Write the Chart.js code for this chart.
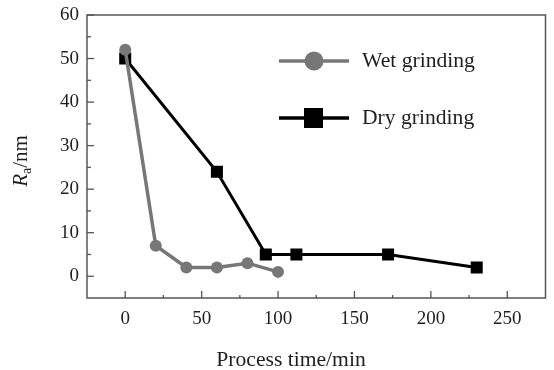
<!DOCTYPE html>
<html><head><meta charset="utf-8">
<script src="https://cdn.jsdelivr.net/npm/chart.js@4/dist/chart.umd.min.js"></script>
<style>html,body{margin:0;padding:0;background:#fff}#wrap{width:554px;height:370px}</style>
</head><body><div id="wrap"><canvas id="c" width="554" height="370"></canvas></div>
<script>
const wetTime = [0, 20, 40, 60, 80, 100];
const wetRa = [52, 7, 2, 2, 3, 1];
const dryTime = [0, 60, 92, 112, 172, 230];
const dryRa = [50, 24, 5, 5, 5, 2];
const xTicks = [0, 50, 100, 150, 200, 250];
const yTicks = [0, 10, 20, 30, 40, 50, 60];
const seriesNames = ['Wet grinding', 'Dry grinding'];
const xTitle = 'Process time/min';

const FONT = '"Liberation Serif","Times New Roman",serif';
const GRAY = '#777777';
const INK = '#1e1e1e';

const decor = {
  id: 'decor',
  afterDraw(chart) {
    const ctx = chart.ctx, a = chart.chartArea;
    const xs = chart.scales.x, ys = chart.scales.y;
    ctx.save();
    ctx.strokeStyle = '#555'; ctx.lineWidth = 1.5;
    ctx.strokeRect(a.left, a.top, a.right - a.left, a.bottom - a.top);
    ctx.lineWidth = 1.3;
    for (let v = 0; v <= 250; v += 25) {
      const px = xs.getPixelForValue(v);
      const len = v % 50 === 0 ? 7 : 3;
      ctx.beginPath(); ctx.moveTo(px, a.bottom); ctx.lineTo(px, a.bottom - len); ctx.stroke();
    }
    for (let v = 0; v <= 60; v += 5) {
      const py = ys.getPixelForValue(v);
      const len = v % 10 === 0 ? 7 : 4;
      ctx.beginPath(); ctx.moveTo(a.left, py); ctx.lineTo(a.left + len, py); ctx.stroke();
    }
    // legend
    const items = [
      {y: 61, color: GRAY, lw: 3.5, shape: 'circle'},
      {y: 118, color: '#000', lw: 3.5, shape: 'rect'}
    ];
    items.forEach((it, i) => {
      ctx.strokeStyle = it.color; ctx.lineWidth = it.lw; ctx.fillStyle = it.color;
      ctx.beginPath(); ctx.moveTo(279, it.y); ctx.lineTo(349, it.y); ctx.stroke();
      if (it.shape === 'circle') { ctx.beginPath(); ctx.arc(314, it.y, 9.5, 0, Math.PI * 2); ctx.fill(); }
      else { ctx.fillRect(304, it.y - 10, 19, 20); }
      ctx.fillStyle = INK; ctx.font = '20px ' + FONT; ctx.textBaseline = 'alphabetic'; ctx.textAlign = 'left';
      ctx.save(); ctx.translate(362, it.y + 6); ctx.scale(1.08, 1);
      ctx.fillText(seriesNames[i], 0, 0); ctx.restore();
    });
    // x title
    ctx.fillStyle = INK; ctx.font = '20px ' + FONT; ctx.textAlign = 'center'; ctx.textBaseline = 'alphabetic';
    ctx.save(); ctx.translate(291, 366); ctx.scale(1.08, 1); ctx.fillText(xTitle, 0, 0); ctx.restore();
    // y title R_a/nm
    ctx.translate(27, 161); ctx.rotate(-Math.PI / 2);
    ctx.textAlign = 'left'; ctx.textBaseline = 'alphabetic';
    ctx.font = 'italic 21px ' + FONT;
    const wR = ctx.measureText('R').width;
    ctx.font = '14px ' + FONT;
    const wa = ctx.measureText('a').width;
    ctx.font = '21px ' + FONT;
    const wn = ctx.measureText('/nm').width;
    let x0 = -(wR + wa + wn) / 2;
    ctx.font = 'italic 21px ' + FONT; ctx.fillText('R', x0, 0); x0 += wR;
    ctx.font = '14px ' + FONT; ctx.fillText('a', x0, 4); x0 += wa;
    ctx.font = '21px ' + FONT; ctx.fillText('/nm', x0, 0);
    ctx.restore();
  }
};

new Chart(document.getElementById('c'), {
  type: 'line',
  data: {
    datasets: [
      {label: seriesNames[0], data: wetTime.map((t, i) => ({x: t, y: wetRa[i]})),
       borderColor: GRAY, backgroundColor: GRAY, borderWidth: 3.5, pointStyle: 'circle', pointRadius: 6,
       pointBorderWidth: 0, tension: 0},
      {label: seriesNames[1], data: dryTime.map((t, i) => ({x: t, y: dryRa[i]})),
       borderColor: '#000', backgroundColor: '#000', borderWidth: 3, pointStyle: 'rect', pointRadius: 8.5,
       pointBorderWidth: 0, tension: 0}
    ]
  },
  options: {
    responsive: false, animation: false, devicePixelRatio: 1,
    layout: {padding: {top: 15, right: 8, left: 0, bottom: 0}},
    plugins: {legend: {display: false}, tooltip: {enabled: false}},
    scales: {
      x: {type: 'linear', min: -25, max: 275,
        afterBuildTicks: s => { s.ticks = xTicks.map(v => ({value: v})); },
        afterFit: s => { s.height = 72; s.paddingLeft = 0; s.paddingRight = 0; },
        grid: {display: false, drawTicks: false}, border: {display: false},
        ticks: {color: INK, font: {family: FONT, size: 19}, padding: 10, maxRotation: 0}},
      y: {type: 'linear', min: -5, max: 60,
        afterBuildTicks: s => { s.ticks = yTicks.map(v => ({value: v})); },
        afterFit: s => { s.width = 87; s.paddingTop = 0; s.paddingBottom = 0; },
        grid: {display: false, drawTicks: false}, border: {display: false},
        ticks: {color: INK, font: {family: FONT, size: 19}, padding: 8}}
    }
  },
  plugins: [decor]
});
</script></body></html>
